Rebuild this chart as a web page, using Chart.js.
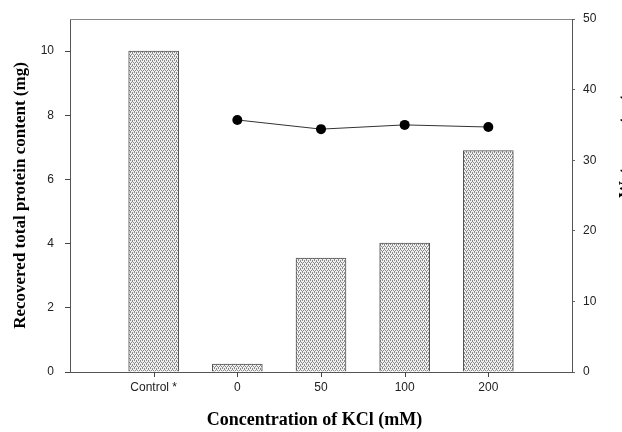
<!DOCTYPE html>
<html>
<head>
<meta charset="utf-8">
<script src="https://cdn.jsdelivr.net/npm/chart.js@4.4.1/dist/chart.umd.min.js"></script>
<style>
  html, body { margin: 0; padding: 0; background: #fff; }
</style>
</head>
<body>
<canvas id="kcl-chart" width="622" height="432"></canvas>
<script>
// Recovered protein and water content per KCl concentration
const categories = ['Control *', '0', '50', '100', '200'];
const proteinMg = [10.0, 0.25, 3.55, 4.02, 6.9];
const waterPct = [null, 35.7, 34.4, 35.0, 34.7];
const leftTicks = [0, 2, 4, 6, 8, 10];
const rightTicks = [0, 10, 20, 30, 40, 50];

// one empty slot on each side of the category axis
const labels = ['', ...categories, ''];
const pad = arr => [null, ...arr, null];

const AXIS = '#555';
const TICK_FONT = { family: "'Liberation Sans', Arial, sans-serif", size: 12 };
const TITLE_FONT = { family: "'Liberation Serif', 'Times New Roman', serif", size: 17, weight: 'bold' };

// stippled grey fill for the bars
function stipple() {
    const c = document.createElement('canvas');
    c.width = 4;
    c.height = 4;
    const g = c.getContext('2d');
    g.fillStyle = '#f0f0f0';
    g.fillRect(0, 0, 4, 4);
    g.fillStyle = '#8a8a8a';
    [[0, 0], [2, 0], [1, 2], [3, 2], [2, 3], [0, 1]].forEach(([x, y]) => g.fillRect(x, y, 1, 1));
    return g.createPattern(c, 'repeat');
}

// top frame line, x-axis title and the right-hand axis title
const frame = {
    id: 'frame',
    afterDraw(chart) {
        const { ctx, chartArea: a } = chart;
        ctx.save();
        ctx.strokeStyle = '#888';
        ctx.lineWidth = 1;
        ctx.beginPath();
        ctx.moveTo(a.left, a.top + 0.5);
        ctx.lineTo(a.right, a.top + 0.5);
        ctx.stroke();

        // category tick marks below the x axis
        const x = chart.scales.x;
        ctx.strokeStyle = '#444';
        ctx.beginPath();
        categories.forEach((_, i) => {
            const px = Math.round(x.getPixelForValue(i + 1)) + 0.5;
            ctx.moveTo(px, a.bottom);
            ctx.lineTo(px, a.bottom + 5);
        });
        ctx.stroke();

        ctx.fillStyle = '#000';
        ctx.font = 'bold 18px "Liberation Serif"';
        ctx.textAlign = 'center';
        ctx.textBaseline = 'middle';
        ctx.fillText('Concentration of KCl (mM)', 314.5, 420);

        ctx.translate(629.5, 198);
        ctx.rotate(-Math.PI / 2);
        ctx.font = 'bold 17px "Liberation Serif"';
        ctx.textAlign = 'left';
        ctx.textBaseline = 'alphabetic';
        ctx.fillText('Water content', 0, 0);
        ctx.restore();
    }
};

Chart.defaults.font.family = TICK_FONT.family;

const ctx = document.getElementById('kcl-chart').getContext('2d');

new Chart(ctx, {
    data: {
        labels: labels,
        datasets: [{
            type: 'line',
            data: pad(waterPct),
            yAxisID: 'y1',
            borderColor: '#333',
            borderWidth: 1,
            pointRadius: 5,
            pointBackgroundColor: '#000',
            pointBorderWidth: 0,
            tension: 0,
            order: 0
        }, {
            type: 'bar',
            data: pad(proteinMg),
            yAxisID: 'y',
            backgroundColor: stipple(),
            borderColor: '#555',
            borderWidth: 1,
            barThickness: 50,
            order: 1
        }]
    },
    options: {
        responsive: false,
        animation: false,
        devicePixelRatio: 1,
        layout: { padding: { top: 19, left: 0, right: 0, bottom: 0 } },
        plugins: {
            legend: { display: false },
            tooltip: { enabled: false }
        },
        scales: {
            x: {
                type: 'category',
                offset: false,
                afterFit: s => { s.height = 60; },
                grid: { offset: false, display: false, tickLength: 5 },
                border: { display: true, color: AXIS, width: 1 },
                ticks: { font: TICK_FONT, color: '#222', padding: 3, maxRotation: 0, autoSkip: false }
            },
            y: {
                position: 'left',
                min: 0,
                max: 11,
                afterFit: s => { s.width = 70; },
                afterBuildTicks: s => { s.ticks = leftTicks.map(v => ({ value: v })); },
                grid: { drawOnChartArea: false, tickLength: 5, tickColor: '#444' },
                border: { color: AXIS, width: 1 },
                ticks: { font: TICK_FONT, color: '#222', padding: 11 },
                title: {
                    display: true,
                    text: 'Recovered total protein content (mg)',
                    color: '#000',
                    font: TITLE_FONT,
                    padding: { top: 10, bottom: 0 }
                }
            },
            y1: {
                position: 'right',
                min: 0,
                max: 50,
                afterFit: s => { s.width = 50; },
                afterBuildTicks: s => { s.ticks = rightTicks.map(v => ({ value: v })); },
                grid: { drawOnChartArea: false, tickLength: 3, tickColor: '#666' },
                border: { color: AXIS, width: 1 },
                ticks: { font: TICK_FONT, color: '#222', padding: 8 }
            }
        }
    },
    plugins: [frame]
});
</script>
</body>
</html>
